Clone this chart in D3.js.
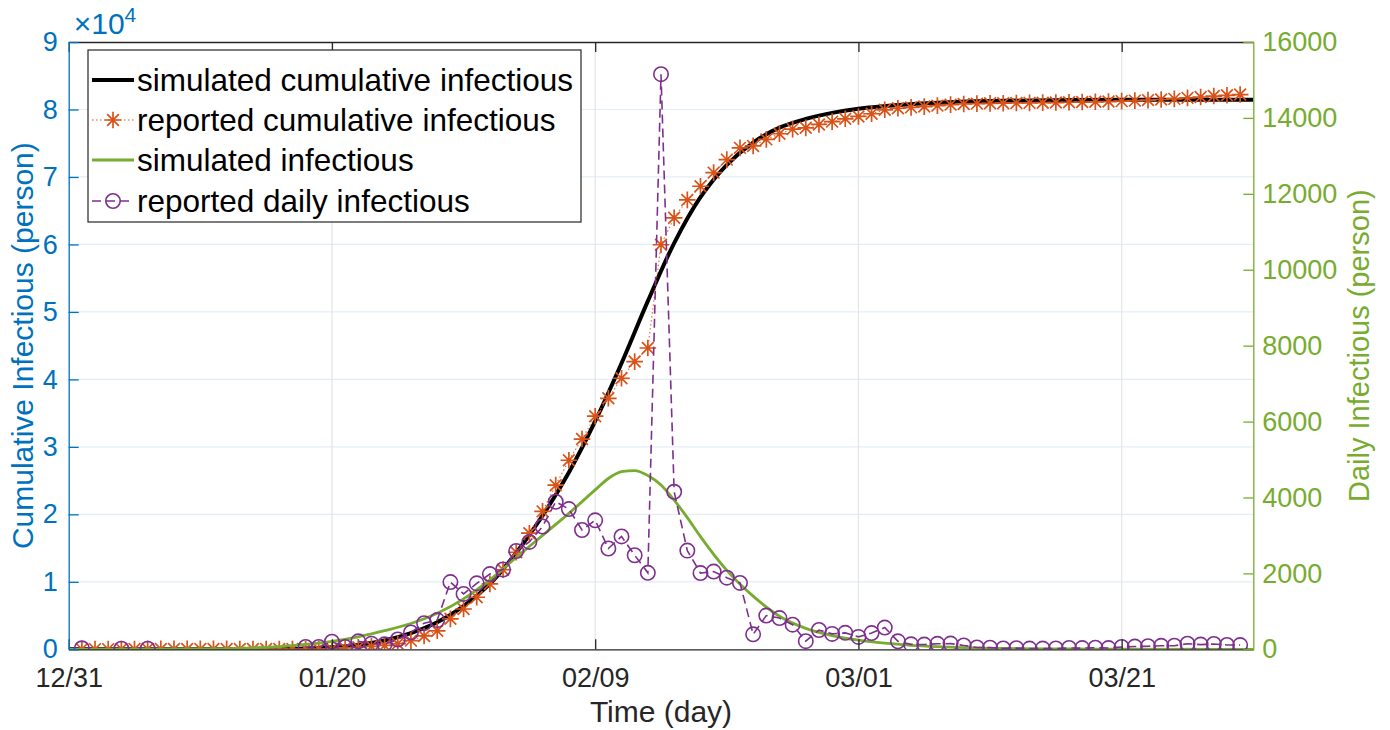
<!DOCTYPE html>
<html>
<head>
<meta charset="utf-8">
<script src="https://cdn.jsdelivr.net/npm/d3@7"></script>
<style>
  html, body { margin: 0; padding: 0; background: #ffffff; }
  svg { display: block; font-family: "Liberation Sans", Arial, Helvetica, sans-serif; }
</style>
</head>
<body>
<svg id="chart" width="1390" height="730"></svg>
<script>
// ---------------- data ----------------
// x tick positions (day index from 12/31) and labels
const xTickDays = [0, 20, 40, 60, 80];
const xTickLabels = ["12/31", "01/20", "02/09", "03/01", "03/21"];
const leftTicks = [0, 10000, 20000, 30000, 40000, 50000, 60000, 70000, 80000, 90000];
const rightTicks = [0, 2000, 4000, 6000, 8000, 10000, 12000, 14000, 16000];

// reported cumulative infectious, day 1 .. day 89
const reportedCumulative = [
  27, 27, 27, 44, 44, 59, 59, 59, 59, 59,
  59, 59, 41, 41, 41, 41, 41, 41, 45, 62,
  198, 291, 440, 571, 830, 1287, 1975, 2744, 4515, 5974,
  7711, 9692, 11791, 14380, 17205, 20438, 24324, 28018, 31161, 34546,
  37198, 40171, 42638, 44653, 59950, 63950, 66600, 68620, 70640, 72570,
  74310, 74600, 75570, 76400, 77090, 77280, 77780, 78200, 78620, 78970,
  79370, 79950, 80180, 80310, 80430, 80570, 80720, 80820, 80870, 80910,
  80930, 80960, 80980, 81010, 81030, 81070, 81100, 81140, 81170, 81240,
  81310, 81390, 81480, 81570, 81720, 81850, 81990, 82100, 82210
];
const reportedCumulativeStartDay = 1;

// reported daily infectious, day 1 .. day 89 (null = no report)
const reportedDaily = [
  27, null, null, 17, null, 15, null, null, null, null,
  null, null, null, null, null, null, null, 60, 60, 200,
  60, 210, 149, 131, 259, 444, 688, 769, 1771, 1459,
  1737, 1982, 2102, 2590, 2829, 3235, 3887, 3694, 3143, 3399,
  2656, 2973, 2478, 2015, 15152, 4150, 2600, 2009, 2048, 1886,
  1749, 394, 889, 823, 648, 214, 508, 406, 433, 327,
  427, 573, 210, 130, 125, 145, 150, 102, 48, 43,
  22, 30, 20, 18, 21, 35, 31, 41, 33, 61,
  72, 82, 92, 93, 148, 124, 140, 115, 112
];
const reportedDailyStartDay = 1;

// simulated cumulative infectious (sampled from the curve)
const simCumDays = [0, 10, 15, 18, 20, 22, 24, 26, 28, 30, 32, 34, 36, 38, 40, 42, 44, 46, 48, 50, 52, 54, 56, 58, 60, 63, 66, 70, 75, 80, 90];
const simCumValues = [0, 10, 40, 120, 300, 650, 1300, 2400, 4000, 6400, 9700, 14300, 19800, 26200, 33800, 42400, 51600, 60200, 67000, 71800, 75100, 77300, 78600, 79500, 80100, 80650, 81000, 81250, 81380, 81440, 81460];

// simulated infectious (sampled from the curve)
const simInfDays = [0, 10, 14, 16, 18, 20, 22, 24, 26, 28, 30, 32, 34, 36, 38, 40, 41, 42, 43, 44, 45, 46, 47, 48, 50, 52, 54, 56, 58, 60, 62, 64, 66, 68, 72, 76, 80, 90];
const simInfValues = [0, 10, 40, 70, 130, 210, 330, 490, 680, 950, 1330, 1830, 2420, 3000, 3580, 4200, 4500, 4680, 4710, 4580, 4330, 3930, 3470, 2970, 2080, 1400, 870, 550, 360, 240, 160, 105, 70, 45, 20, 8, 3, 0];

// ---------------- drawing ----------------
const L = 68.7, R = 1253.3, T = 42, B = 649.3;
const COL_LEFT = "#0072BD", COL_RIGHT = "#77AC30", COL_AX = "#262626";
const COL_BLACK = "#000000", COL_ORANGE = "#D95319", COL_GREEN = "#77AC30", COL_PURPLE = "#7E2F8E";
const FONT = "Liberation Sans, Arial, sans-serif";

const svg = d3.select("#chart");
const x = d3.scaleLinear().domain([0, 90]).range([L, R]);
const yL = d3.scaleLinear().domain([0, 90000]).range([B, T]);
const yR = d3.scaleLinear().domain([0, 16000]).range([B, T]);

svg.append("defs").append("clipPath").attr("id", "plotclip")
  .append("rect").attr("x", L).attr("y", T).attr("width", R - L).attr("height", B - T);

// grid
const grid = svg.append("g");
grid.selectAll("line.h").data(leftTicks.slice(1, -1)).join("line")
  .attr("x1", L).attr("x2", R).attr("y1", d => yL(d)).attr("y2", d => yL(d))
  .attr("stroke", "#e3edf7").attr("stroke-width", 1.2);
grid.selectAll("line.v").data(xTickDays.slice(1)).join("line")
  .attr("y1", T).attr("y2", B).attr("x1", d => x(d)).attr("x2", d => x(d))
  .attr("stroke", "#e4e4e4").attr("stroke-width", 1.2);

const plot = svg.append("g").attr("clip-path", "url(#plotclip)");
const smooth = d3.curveCatmullRom.alpha(0.5);

// simulated cumulative (black)
plot.append("path")
  .datum(simCumDays.map((d, i) => [d, simCumValues[i]]))
  .attr("fill", "none").attr("stroke", COL_BLACK).attr("stroke-width", 4)
  .attr("d", d3.line().x(d => x(d[0])).y(d => yL(d[1])).curve(smooth));

// reported cumulative (orange dotted + asterisks)
const repCum = reportedCumulative.map((v, i) => [reportedCumulativeStartDay + i, v]);
plot.append("path").datum(repCum)
  .attr("fill", "none").attr("stroke", COL_ORANGE).attr("stroke-width", 1.2)
  .attr("stroke-dasharray", "1.5,2.5").attr("opacity", 0.8)
  .attr("d", d3.line().x(d => x(d[0])).y(d => yL(d[1])));
const star = (g, s) => {
  const a = s * 0.7071;
  g.append("path").attr("d",
    `M0,${-s}L0,${s}M${-s},0L${s},0M${-a},${-a}L${a},${a}M${-a},${a}L${a},${-a}`);
};
plot.append("g").selectAll("g").data(repCum).join("g")
  .attr("transform", d => `translate(${x(d[0])},${yL(d[1])})`)
  .attr("stroke", COL_ORANGE).attr("stroke-width", 1.7).attr("fill", "none")
  .each(function () { star(d3.select(this), 8.3); });

// simulated infectious (green)
plot.append("path")
  .datum(simInfDays.map((d, i) => [d, simInfValues[i]]))
  .attr("fill", "none").attr("stroke", COL_GREEN).attr("stroke-width", 2.8)
  .attr("d", d3.line().x(d => x(d[0])).y(d => yR(d[1])).curve(d3.curveMonotoneX));

// reported daily (purple dashed + circles)
const repDaily = reportedDaily.map((v, i) => [reportedDailyStartDay + i, v]);
plot.append("path").datum(repDaily)
  .attr("fill", "none").attr("stroke", COL_PURPLE).attr("stroke-width", 1.6)
  .attr("stroke-dasharray", "9,5")
  .attr("d", d3.line().defined(d => d[1] !== null).x(d => x(d[0])).y(d => yR(d[1])));
plot.append("g").selectAll("circle").data(repDaily.filter(d => d[1] !== null)).join("circle")
  .attr("cx", d => x(d[0])).attr("cy", d => yR(d[1])).attr("r", 7.2)
  .attr("fill", "none").attr("stroke", COL_PURPLE).attr("stroke-width", 1.6);

// axes
const FS = 27;
const gx = svg.append("g").attr("transform", `translate(0,${B})`)
  .call(d3.axisBottom(x).tickValues(xTickDays).tickFormat((d, i) => xTickLabels[i])
    .tickSizeInner(-10).tickSizeOuter(0).tickPadding(19));
gx.select(".domain").attr("stroke", COL_AX).attr("stroke-width", 1.3);
gx.selectAll(".tick line").attr("stroke", COL_AX).attr("stroke-width", 1.3);
gx.selectAll(".tick text").attr("fill", COL_AX).attr("font-size", FS).attr("font-family", FONT);

const gt = svg.append("g").attr("transform", `translate(0,${T})`)
  .call(d3.axisTop(x).tickValues(xTickDays).tickFormat("").tickSizeInner(-10).tickSizeOuter(0));
gt.select(".domain").attr("stroke", COL_AX).attr("stroke-width", 1.3);
gt.selectAll(".tick line").attr("stroke", COL_AX).attr("stroke-width", 1.3);

const gl = svg.append("g").attr("transform", `translate(${L},0)`)
  .call(d3.axisLeft(yL).tickValues(leftTicks).tickFormat(d => d / 10000)
    .tickSizeInner(-10).tickSizeOuter(0).tickPadding(11));
gl.select(".domain").attr("stroke", COL_LEFT).attr("stroke-width", 1.3);
gl.selectAll(".tick line").attr("stroke", COL_LEFT).attr("stroke-width", 1.3);
gl.selectAll(".tick text").attr("fill", COL_LEFT).attr("font-size", FS).attr("font-family", FONT);

const gr = svg.append("g").attr("transform", `translate(${R},0)`)
  .call(d3.axisRight(yR).tickValues(rightTicks).tickFormat(d3.format("d"))
    .tickSizeInner(-10).tickSizeOuter(0).tickPadding(9));
gr.select(".domain").attr("stroke", COL_RIGHT).attr("stroke-width", 1.3);
gr.selectAll(".tick line").attr("stroke", COL_RIGHT).attr("stroke-width", 1.3);
gr.selectAll(".tick text").attr("fill", COL_RIGHT).attr("font-size", FS).attr("font-family", FONT);

// exponent label
const ex = svg.append("text").attr("x", L + 5).attr("y", 34).attr("fill", COL_LEFT).attr("font-size", 30);
ex.append("tspan").text("\u00D710");
ex.append("tspan").attr("dy", -12).attr("font-size", 21).text("4");

// axis titles
svg.append("text").attr("x", (L + R) / 2).attr("y", 722).attr("text-anchor", "middle")
  .attr("font-size", 30).attr("fill", COL_AX).text("Time (day)");
svg.append("text").attr("transform", `translate(33,${(T + B) / 2}) rotate(-90)`)
  .attr("text-anchor", "middle").attr("font-size", 30).attr("fill", COL_LEFT)
  .text("Cumulative Infectious (person)");
svg.append("text").attr("transform", `translate(1369,${(T + B) / 2}) rotate(-90)`)
  .attr("text-anchor", "middle").attr("font-size", 29).attr("fill", COL_RIGHT)
  .text("Daily Infectious (person)");

// legend
const leg = svg.append("g");
const LX = 88, LY = 50, LW = 493, LH = 172;
leg.append("rect").attr("x", LX).attr("y", LY).attr("width", LW).attr("height", LH)
  .attr("fill", "#ffffff").attr("stroke", COL_AX).attr("stroke-width", 1.2);
const legItems = [
  { label: "simulated cumulative infectious", color: COL_BLACK, width: 4, dash: null, marker: null },
  { label: "reported cumulative infectious", color: COL_ORANGE, width: 1.2, dash: "1.5,2.5", marker: "star" },
  { label: "simulated infectious", color: COL_GREEN, width: 2.8, dash: null, marker: null },
  { label: "reported daily infectious", color: COL_PURPLE, width: 1.6, dash: "9,5", marker: "circle" }
];
const rowY = [80, 120, 160, 201];
legItems.forEach((it, i) => {
  const g = leg.append("g").attr("transform", `translate(0,${rowY[i]})`);
  g.append("line").attr("x1", 92).attr("x2", 134).attr("y1", 0).attr("y2", 0)
    .attr("stroke", it.color).attr("stroke-width", it.width)
    .attr("stroke-dasharray", it.dash);
  if (it.marker === "star") {
    const m = g.append("g").attr("transform", "translate(113,0)")
      .attr("stroke", it.color).attr("stroke-width", 1.7).attr("fill", "none");
    star(m, 8.3);
  }
  if (it.marker === "circle") {
    g.append("circle").attr("cx", 113).attr("cy", 0).attr("r", 7.2)
      .attr("fill", "none").attr("stroke", it.color).attr("stroke-width", 1.6);
  }
  g.append("text").attr("x", 137).attr("y", 11).attr("font-size", 31.5).attr("fill", "#000")
    .text(it.label);
});
</script>
</body>
</html>
